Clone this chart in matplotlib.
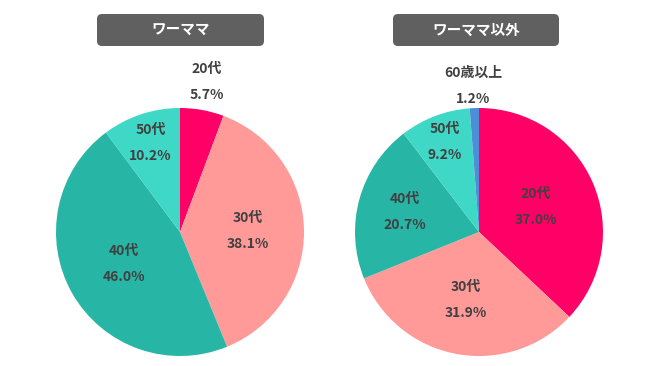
import numpy as np
import matplotlib
matplotlib.use("Agg")
import matplotlib.pyplot as plt
from matplotlib.patches import FancyBboxPatch

plt.rcParams["font.family"] = ["Noto Sans CJK JP", "DejaVu Sans"]

# data
left_title = "ワーママ"
left_labels = ["20代", "30代", "40代", "50代"]
left_values = [5.7, 38.1, 46.0, 10.2]

right_title = "ワーママ以外"
right_labels = ["20代", "30代", "40代", "50代", "60歳以上"]
right_values = [37.0, 31.9, 20.7, 9.2, 1.2]

colors = ["#FF0066", "#FF9A98", "#27B5A6", "#3FD8C7", "#4A8FD8"]
text_color = "#404040"

# radial position of each label (fraction of radius)
left_label_r = [1.23, 0.55, 0.52, 0.76]
right_label_r = [0.50, 0.56, 0.62, 0.78, 1.18]

W, H = 650, 366
fig = plt.figure(figsize=(W / 100, H / 100), dpi=100)


def draw_pie(cx, cy, rad, values, labels, label_r):
    ax = fig.add_axes([(cx - rad) / W, (H - cy - rad) / H, 2 * rad / W, 2 * rad / H])
    wedges, _ = ax.pie(values, colors=colors[:len(values)], startangle=90,
                       counterclock=False, radius=1,
                       wedgeprops=dict(linewidth=0))
    ax.set_xlim(-1, 1)
    ax.set_ylim(-1, 1)
    ax.set_aspect("equal")
    ax.axis("off")
    for w, lab, val, r in zip(wedges, labels, values, label_r):
        ang = np.deg2rad((w.theta1 + w.theta2) / 2)
        x, y = r * np.cos(ang), r * np.sin(ang)
        ax.text(x, y + 0.105, lab, ha="center", va="center", fontsize=10,
                fontweight="bold", color=text_color)
        ax.text(x, y - 0.105, f"{val:.1f}%", ha="center", va="center",
                fontsize=10, fontweight="bold", color=text_color)


draw_pie(180, 232, 124, left_values, left_labels, left_label_r)
draw_pie(479, 232, 124, right_values, right_labels, right_label_r)

# title boxes
top = fig.add_axes([0, 0, 1, 1])
top.set_xlim(0, W)
top.set_ylim(H, 0)
top.axis("off")
for x0, x1, title in [(97, 264, left_title), (393, 559, right_title)]:
    box = FancyBboxPatch((x0, 14), x1 - x0, 32,
                         boxstyle="round,pad=0,rounding_size=5",
                         facecolor="#606060", edgecolor="none")
    top.add_patch(box)
    top.text((x0 + x1) / 2, 30, title, ha="center", va="center",
             fontsize=10.5, fontweight="bold", color="white")

fig.savefig("out.png", dpi=100)
